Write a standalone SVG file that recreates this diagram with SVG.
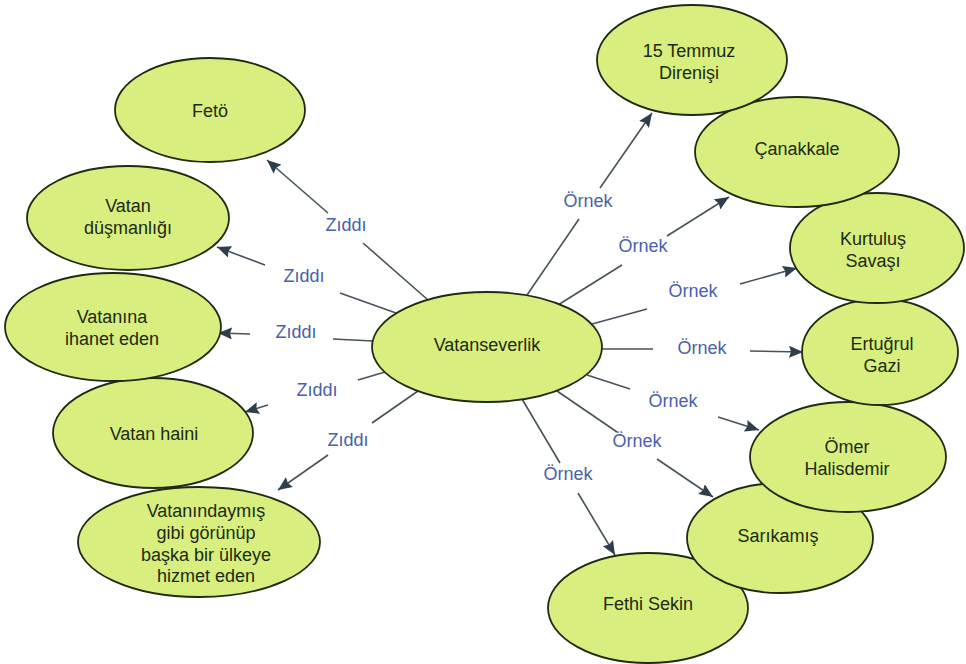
<svg xmlns="http://www.w3.org/2000/svg" width="966" height="664" viewBox="0 0 966 664">
<defs>
<marker id="arr" markerUnits="userSpaceOnUse" markerWidth="15" markerHeight="12" refX="14" refY="6" orient="auto">
<path d="M0,0 L14,6 L0,12 L2,6 z" fill="#2f3e4c"/>
</marker>
<style>
.node ellipse{fill:#d8ef80;stroke:#1f2a12;stroke-width:1.8}
.node text{font-family:"Liberation Sans",Arial,sans-serif;font-size:18px;fill:#1c2a10;text-anchor:middle}
.edge line{stroke:#47525c;stroke-width:1.6;fill:none}
.edge .head{marker-end:url(#arr)}
.lbl{font-family:"Liberation Sans",Arial,sans-serif;font-size:18px;fill:#4a60ac;text-anchor:middle}
</style>
</defs>
<rect width="966" height="664" fill="#ffffff"/>
<g id="connectors">
<g class="edge" id="e-feto"><line x1="428" y1="300" x2="363" y2="243"/><line class="head" x1="328" y1="213" x2="267" y2="160"/><text class="lbl" x="346" y="231">Zıddı</text></g>
<g class="edge" id="e-dusman"><line x1="396" y1="313" x2="340" y2="293"/><line class="head" x1="265" y1="265" x2="217" y2="247"/><text class="lbl" x="304" y="282">Zıddı</text></g>
<g class="edge" id="e-ihanet"><line x1="373" y1="341" x2="333" y2="339"/><line class="head" x1="250" y1="334" x2="218" y2="333"/><text class="lbl" x="296" y="338">Zıddı</text></g>
<g class="edge" id="e-haini"><line x1="385" y1="372" x2="358" y2="380"/><line class="head" x1="268" y1="405" x2="245" y2="412"/><text class="lbl" x="317" y="396">Zıddı</text></g>
<g class="edge" id="e-vatanindaymis"><line x1="418" y1="391" x2="372" y2="423"/><line class="head" x1="328" y1="455" x2="278" y2="490"/><text class="lbl" x="348" y="446">Zıddı</text></g>
<g class="edge" id="e-15temmuz"><line x1="527" y1="295" x2="579" y2="219"/><line class="head" x1="600" y1="188" x2="652" y2="113"/><text class="lbl" x="588" y="207">Örnek</text></g>
<g class="edge" id="e-canakkale"><line x1="558" y1="305" x2="622" y2="265"/><line class="head" x1="667" y1="236" x2="729" y2="197"/><text class="lbl" x="643" y="252">Örnek</text></g>
<g class="edge" id="e-kurtulus"><line x1="592" y1="324" x2="647" y2="309"/><line class="head" x1="740" y1="284" x2="797" y2="268"/><text class="lbl" x="693" y="297">Örnek</text></g>
<g class="edge" id="e-ertugrul"><line x1="602" y1="349" x2="653" y2="349"/><line class="head" x1="750" y1="351" x2="803" y2="352"/><text class="lbl" x="702" y="354">Örnek</text></g>
<g class="edge" id="e-omer"><line x1="587" y1="375" x2="630" y2="389"/><line class="head" x1="718" y1="417" x2="759" y2="430"/><text class="lbl" x="673" y="407">Örnek</text></g>
<g class="edge" id="e-sarikamis"><line x1="557" y1="391" x2="617" y2="432"/><line class="head" x1="657" y1="459" x2="713" y2="497"/><text class="lbl" x="637" y="447">Örnek</text></g>
<g class="edge" id="e-fethi"><line x1="522" y1="399" x2="560" y2="463"/><line class="head" x1="578" y1="493" x2="615" y2="555"/><text class="lbl" x="568" y="480">Örnek</text></g>
</g>
<g id="n-vatanindaymis" class="node"><ellipse cx="199" cy="542" rx="121" ry="55"/><text x="206" y="517">Vatanındaymış</text><text x="206" y="539">gibi görünüp</text><text x="206" y="561">başka bir ülkeye</text><text x="206" y="582">hizmet eden</text></g>
<g id="n-haini" class="node"><ellipse cx="153" cy="433" rx="100" ry="55"/><text x="154" y="440">Vatan haini</text></g>
<g id="n-ihanet" class="node"><ellipse cx="113" cy="327" rx="108" ry="54"/><text x="112" y="323">Vatanına</text><text x="112" y="345">ihanet eden</text></g>
<g id="n-dusman" class="node"><ellipse cx="128" cy="218" rx="101" ry="52"/><text x="128" y="212">Vatan</text><text x="128" y="234">düşmanlığı</text></g>
<g id="n-feto" class="node"><ellipse cx="210" cy="110" rx="95" ry="52"/><text x="210" y="117">Fetö</text></g>
<g id="n-fethi" class="node"><ellipse cx="648" cy="608" rx="100" ry="55"/><text x="648" y="610">Fethi Sekin</text></g>
<g id="n-sarikamis" class="node"><ellipse cx="780" cy="538" rx="93" ry="55"/><text x="778" y="542">Sarıkamış</text></g>
<g id="n-omer" class="node"><ellipse cx="848" cy="457" rx="98" ry="55"/><text x="847" y="453">Ömer</text><text x="847" y="475">Halisdemir</text></g>
<g id="n-ertugrul" class="node"><ellipse cx="880" cy="352" rx="78" ry="53"/><text x="882" y="350">Ertuğrul</text><text x="882" y="372">Gazi</text></g>
<g id="n-kurtulus" class="node"><ellipse cx="877" cy="248" rx="87" ry="55"/><text x="873" y="245">Kurtuluş</text><text x="873" y="267">Savaşı</text></g>
<g id="n-canakkale" class="node"><ellipse cx="797" cy="152" rx="102" ry="55"/><text x="797" y="155">Çanakkale</text></g>
<g id="n-15temmuz" class="node"><ellipse cx="692" cy="60" rx="95" ry="55"/><text x="689" y="57">15 Temmuz</text><text x="689" y="79">Direnişi</text></g>
<g id="n-vatanseverlik" class="node"><ellipse cx="487" cy="347" rx="115" ry="55"/><text x="487" y="351">Vatanseverlik</text></g>
</svg>
